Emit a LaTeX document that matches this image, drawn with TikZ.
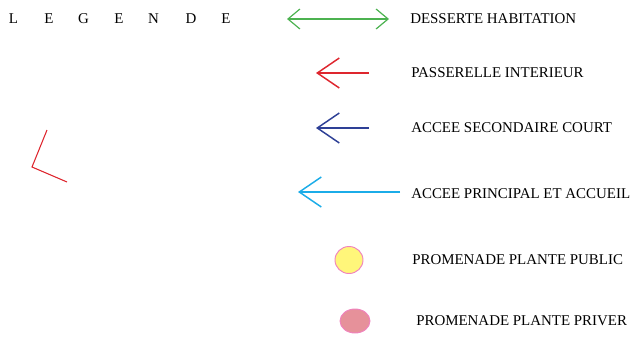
\documentclass[tikz,border=0pt]{standalone}
\usepackage{fontspec}
\setmainfont{Liberation Serif}
\usetikzlibrary{arrows.meta}
\definecolor{cgreen}{RGB}{76,178,80}
\definecolor{cred}{RGB}{222,38,46}
\definecolor{cblue}{RGB}{46,64,150}
\definecolor{ccyan}{RGB}{27,172,232}
\definecolor{cyellow}{RGB}{255,246,122}
\definecolor{cpinkline}{RGB}{240,130,190}
\definecolor{cpink}{RGB}{230,145,154}
\begin{document}
\begin{tikzpicture}[x=0.75pt,y=-0.75pt,
  lbl/.style={anchor=west,inner sep=0pt,font=\fontsize{11.2}{13}\selectfont},
  ltr/.style={inner sep=0pt,font=\fontsize{11.2}{13}\selectfont},
  legarrow/.style={line width=1.1pt,-{Straight Barb[length=16.5pt,width=22.5pt,line width=1.1pt]}},
  dblarrow/.style={line width=0.9pt,{Straight Barb[length=9pt,width=15pt,line width=0.9pt]}-{Straight Barb[length=9pt,width=15pt,line width=0.9pt]}}]
\useasboundingbox (0,0) rectangle (636,336);
% title letters
\foreach \x/\l [count=\i] in {13.5/L,49/E,83.5/G,119/E,153.5/N,191/D,226/E}
  \node[ltr] (t\i) at (\x,19) {\l};
% desserte
\coordinate (g1) at (287,19);
\coordinate (g2) at (389,19);
\draw[dblarrow,cgreen] (g1) -- (g2);
\node[lbl] (l1) at (410,19) {DESSERTE HABITATION};
% passerelle
\coordinate (r1) at (369,73);
\coordinate (r2) at (316,73);
\draw[legarrow,cred] (r1) -- (r2);
\node[lbl] (l2) at (411,73) {PASSERELLE INTERIEUR};
% secondaire
\coordinate (b1) at (369,128);
\coordinate (b2) at (316,128);
\draw[legarrow,cblue] (b1) -- (b2);
\node[lbl] (l3) at (411,128) {ACCEE SECONDAIRE COURT};
% principal
\coordinate (c1) at (400,192);
\coordinate (c2) at (298,192);
\draw[legarrow,ccyan,line width=1.5pt] (c1) -- (c2);
\node[lbl] (l4) at (411,194) {ACCEE PRINCIPAL ET ACCUEIL};
% public
\draw[fill=cyellow,draw=cpinkline,line width=0.7pt] (349,260) ellipse [x radius=14,y radius=13.5];
\node[lbl] (l5) at (412,260) {PROMENADE PLANTE PUBLIC};
% priver
\draw[fill=cpink,draw=cpinkline,line width=0.7pt] (355,321) ellipse [x radius=15,y radius=12];
\node[lbl] (l6) at (416,321) {PROMENADE PLANTE PRIVER};
% red angle
\draw[cred,line width=0.8pt] (47,130) -- (32,167) -- (67,182);
\end{tikzpicture}
\end{document}
